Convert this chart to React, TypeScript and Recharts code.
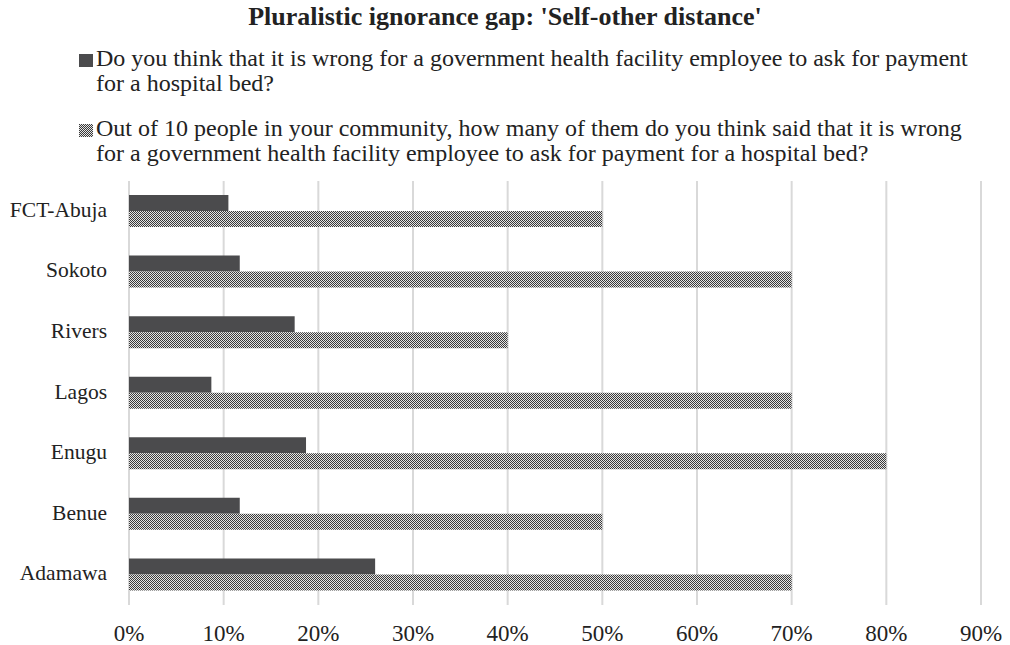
import { Bar, BarChart, CartesianGrid, Legend, XAxis, YAxis } from "recharts";

const states = ["FCT-Abuja", "Sokoto", "Rivers", "Lagos", "Enugu", "Benue", "Adamawa"];
const selfWrong = [10.5, 11.7, 17.5, 8.7, 18.7, 11.7, 26];
const othersWrong = [50, 70, 40, 70, 80, 50, 70];
const percentTicks = [0, 10, 20, 30, 40, 50, 60, 70, 80, 90];

const legendLines = [
  [
    "Do you think that it is wrong for a government health facility employee to ask for payment",
    "for a hospital bed?",
  ],
  [
    "Out of 10 people in your community, how many of them do you think said that it is wrong",
    "for a government health facility employee to ask for payment for a hospital bed?",
  ],
];

const data = states.map((state, i) => ({
  state,
  self: selfWrong[i],
  others: othersWrong[i],
}));

const FONT = '"Liberation Serif", "Times New Roman", serif';
const DARK = "#4b4b4d";

const ChartLegend = ({ payload }: any) => (
  <div style={{ fontFamily: FONT, fontSize: 24, lineHeight: "25px", color: "#222", whiteSpace: "nowrap" }}>
    {(payload || []).map((entry: any, i: number) => (
      <div key={`legend-${i}`} style={{ position: "relative", marginBottom: 20 }}>
        <svg
          width={14}
          height={13}
          style={{ position: "absolute", left: 0, top: 8 }}
        >
          <rect width={14} height={13} fill={entry.color} />
        </svg>
        <div style={{ marginLeft: 17 }}>
          {legendLines[i].map((line, j) => (
            <div key={j}>{line}</div>
          ))}
        </div>
      </div>
    ))}
  </div>
);

const App = (): JSX.Element => (
  <div style={{ position: "absolute", left: 0, top: 0, width: 1010, height: 645, background: "#fff" }}>
    <svg width={0} height={0} style={{ position: "absolute" }}>
      <defs>
        <pattern id="checker" width={2} height={2} patternUnits="userSpaceOnUse">
          <rect width={2} height={2} fill="#e4e4e4" />
          <rect width={1} height={1} fill="#3a3a3a" />
          <rect x={1} y={1} width={1} height={1} fill="#3a3a3a" />
        </pattern>
      </defs>
    </svg>
    <div
      style={{
        position: "absolute",
        top: 0,
        left: 0,
        width: 1010,
        textAlign: "center",
        fontFamily: FONT,
        fontWeight: "bold",
        fontSize: 26,
        lineHeight: "34px",
        color: "#222",
      }}
    >
      Pluralistic ignorance gap: 'Self-other distance'
    </div>
    <BarChart
      width={1010}
      height={645}
      data={data}
      layout="vertical"
      margin={{ top: 181, right: 29, bottom: 0, left: 0 }}
      barGap={0}
      barSize={16}
    >
      <CartesianGrid horizontal={false} stroke="#d9d9d9" strokeWidth={2} />
      <XAxis
        type="number"
        domain={[0, 90]}
        ticks={percentTicks}
        tickFormatter={(v) => `${v}%`}
        axisLine={false}
        tickLine={false}
        tickSize={0}
        tickMargin={20}
        height={40}
        tick={{ fontFamily: FONT, fontSize: 23, fill: "#222" }}
      />
      <YAxis
        type="category"
        dataKey="state"
        width={129}
        axisLine={false}
        tickLine={false}
        tickSize={0}
        tickMargin={22}
        tick={{ fontFamily: FONT, fontSize: 21.5, fill: "#222", dy: -2 }}
      />
      <Legend
        layout="vertical"
        align="center"
        verticalAlign="middle"
        content={<ChartLegend />}
        wrapperStyle={{ position: "absolute", top: 46, left: 79, width: 925 }}
      />
      <Bar dataKey="self" name={legendLines[0].join(" ")} fill={DARK} isAnimationActive={false} />
      <Bar dataKey="others" name={legendLines[1].join(" ")} fill="url(#checker)" isAnimationActive={false} />
    </BarChart>
  </div>
);

export default App;
